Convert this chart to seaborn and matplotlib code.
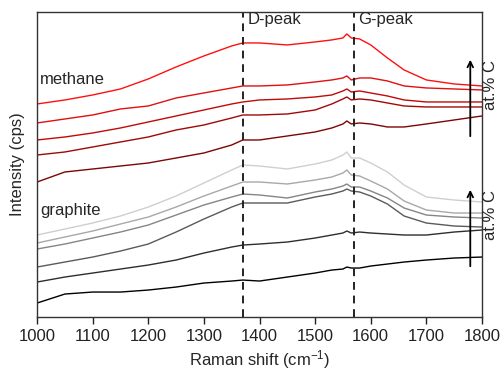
import matplotlib
matplotlib.use("Agg")
import matplotlib.pyplot as plt
import seaborn as sns
import numpy as np
import pandas as pd

shift = [1000, 1050, 1100, 1150, 1200, 1250, 1300, 1350, 1370, 1400, 1450, 1500,
         1530, 1550, 1557, 1565, 1580, 1600, 1630, 1660, 1700, 1750, 1800]

# methane series (top = highest at.% C), offset intensities in cps
methane_1 = [213, 217, 222, 228, 238, 250, 261, 271, 274, 274, 272, 275, 277, 279, 283, 279, 278, 272, 259, 247, 237, 233, 231]
methane_2 = [194, 198, 202, 208, 211, 219, 224, 229, 231, 231, 232, 235, 237, 239, 241, 237, 239, 239, 236, 231, 229, 228, 227]
methane_3 = [177, 180, 184, 189, 195, 201, 207, 213, 215, 217, 218, 220, 222, 226, 228, 225, 226, 224, 221, 217, 215, 215, 215]
methane_4 = [162, 165, 170, 175, 180, 187, 192, 199, 202, 202, 203, 207, 213, 218, 220, 217, 218, 217, 214, 211, 210, 210, 210]
methane_5 = [135, 145, 148, 151, 154, 159, 164, 172, 177, 177, 181, 185, 189, 193, 196, 193, 194, 193, 190, 190, 193, 197, 201]

# graphite series
graphite_1 = [82, 88, 94, 101, 110, 121, 134, 147, 152, 151, 148, 153, 157, 162, 165, 159, 159, 154, 145, 132, 120, 117, 115]
graphite_2 = [74, 80, 86, 93, 100, 110, 121, 131, 135, 135, 133, 137, 140, 144, 147, 142, 141, 136, 128, 116, 107, 104, 104]
graphite_3 = [68, 73, 79, 85, 92, 102, 112, 120, 123, 122, 119, 125, 128, 131, 133, 130, 130, 126, 119, 109, 102, 100, 99]
graphite_4 = [50, 55, 60, 66, 73, 85, 98, 110, 114, 114, 114, 120, 123, 126, 128, 126, 125, 121, 113, 101, 94, 91, 90]
graphite_5 = [35, 40, 44, 48, 52, 57, 64, 70, 72, 73, 75, 79, 82, 84, 86, 84, 85, 84, 83, 82, 82, 85, 87]
graphite_6 = [14, 23, 25, 25, 27, 30, 34, 36, 37, 36, 40, 44, 47, 48, 50, 49, 49, 51, 53, 55, 57, 59, 60]

series = {
    "methane_1": methane_1, "methane_2": methane_2, "methane_3": methane_3,
    "methane_4": methane_4, "methane_5": methane_5,
    "graphite_1": graphite_1, "graphite_2": graphite_2, "graphite_3": graphite_3,
    "graphite_4": graphite_4, "graphite_5": graphite_5, "graphite_6": graphite_6,
}
colors = ["#ff1010", "#e01010", "#c00a0a", "#a00808", "#7a0606",
          "#cfcfcf", "#a8a8a8", "#858585", "#5a5a5a", "#2e2e2e", "#000000"]

d_peak = 1370
g_peak = 1570

rows = []
for name, vals in series.items():
    for s, v in zip(shift, vals):
        rows.append({"shift": s, "intensity": v, "sample": name})
df = pd.DataFrame(rows)

sns.set_style("ticks")
plt.rcParams["font.family"] = ["Liberation Sans", "DejaVu Sans"]
plt.rcParams["mathtext.fontset"] = "custom"
plt.rcParams["mathtext.rm"] = "Liberation Sans"
plt.rcParams["mathtext.it"] = "Liberation Sans:italic"

fig = plt.figure(figsize=(5.01, 3.73), dpi=100)
ax = fig.add_axes([0.074, 0.150, 0.888, 0.818])

sns.lineplot(data=df, x="shift", y="intensity", hue="sample",
             palette=dict(zip(series.keys(), colors)), legend=False,
             linewidth=1.0, ax=ax)

ax.axvline(d_peak, color="#222222", ls=(0, (4, 3)), lw=1.4)
ax.axvline(g_peak, color="#222222", ls=(0, (4, 3)), lw=1.4)

ax.set_xlim(1000, 1800)
ax.set_ylim(0, 305)
ax.set_xticks(range(1000, 1801, 100))
ax.set_yticks([])
ax.tick_params(axis="x", direction="out", length=5, width=1, labelsize=12, colors="#222222")
for sp in ax.spines.values():
    sp.set_color("#333333")
    sp.set_linewidth(1.0)

ax.set_xlabel("Raman shift (cm$^{-1}$)", fontsize=12, labelpad=3)
ax.set_ylabel("Intensity (cps)", fontsize=12, labelpad=9)

ax.text(1005, 237, "methane", fontsize=12, va="center", ha="left")
ax.text(1005, 107, "graphite", fontsize=12, va="center", ha="left")
ax.text(1378, 297, "D-peak", fontsize=12, va="center", ha="left")
ax.text(1578, 297, "G-peak", fontsize=12, va="center", ha="left")

arrow_x = 1779
ax.annotate("", xy=(arrow_x, 260), xytext=(arrow_x, 178),
            arrowprops=dict(arrowstyle="->", color="black", lw=1.3))
ax.annotate("", xy=(arrow_x, 130), xytext=(arrow_x, 48),
            arrowprops=dict(arrowstyle="->", color="black", lw=1.3))
ax.text(1815, 232, "at.% C", rotation=90, fontsize=12, va="center", ha="center", clip_on=False)
ax.text(1815, 102, "at.% C", rotation=90, fontsize=12, va="center", ha="center", clip_on=False)

fig.savefig("out.png", dpi=100)
